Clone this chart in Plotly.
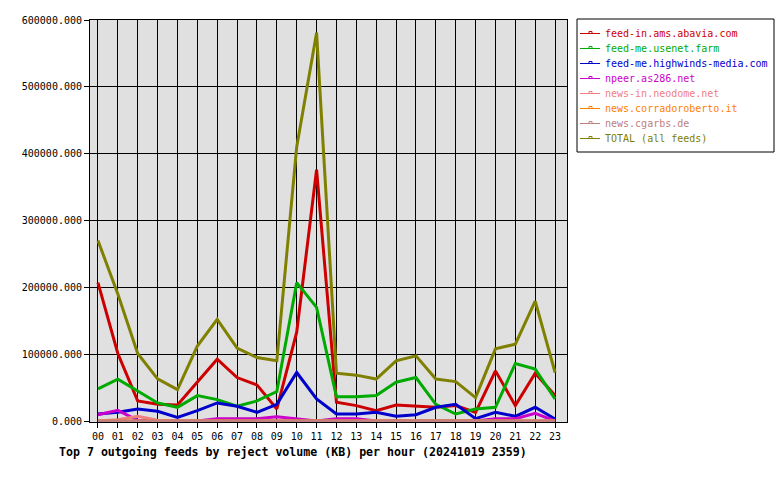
import plotly.graph_objects as go

hours = [f"{h:02d}" for h in range(24)]

series_names = [
    "feed-in.ams.abavia.com",
    "feed-me.usenet.farm",
    "feed-me.highwinds-media.com",
    "npeer.as286.net",
    "news-in.neodome.net",
    "news.corradoroberto.it",
    "news.cgarbs.de",
    "TOTAL (all feeds)",
]
series_colors = ["#cc0000", "#00aa00", "#0000cc", "#cc00cc", "#f08080", "#ff8000", "#c08080", "#808000"]

abavia = [207000, 101000, 30000, 25000, 24000, 58000, 92500, 65000, 54000, 18000, 133000, 376000,
          28000, 23000, 15400, 24000, 22000, 20500, 23000, 13000, 75000, 23000, 71600, 38000]
usenet = [48000, 62700, 45000, 27000, 20500, 38000, 32000, 22000, 30000, 44000, 207000, 170000,
          36300, 36300, 38000, 58000, 65000, 25000, 10500, 18000, 20500, 86000, 77600, 33000]
highwinds = [10500, 13000, 18000, 14500, 5500, 15400, 27000, 22000, 13000, 25000, 72600, 33000,
             10500, 10500, 13000, 7000, 9500, 20500, 25000, 3500, 13000, 7000, 20500, 3000]
npeer = [9400, 16000, 1000, 0, 0, 0, 3500, 3500, 3500, 6500, 3000, 0,
         3500, 3500, 0, 0, 0, 0, 0, 0, 3500, 3500, 11500, 0]
neodome = [0, 2000, 7000, 1000, 0, 0, 0, 0, 0, 0, 0, 0,
           0, 0, 0, 0, 0, 0, 0, 0, 0, 0, 0, 0]
corradoroberto = [0] * 24
cgarbs = [0] * 24
total = [270000, 190000, 101000, 63000, 47000, 112000, 152000, 109000, 95000, 90000, 410000, 581000,
         71500, 68600, 62700, 90000, 97500, 62700, 59000, 35000, 108000, 115000, 179500, 72600]

all_series = [abavia, usenet, highwinds, npeer, neodome, corradoroberto, cgarbs, total]

y_ticks = [0, 100000, 200000, 300000, 400000, 500000, 600000]

MONO = "DejaVu Sans Mono"

# plot-area geometry in pixels
W, H = 780, 480
L, R, T, B = 90, 213, 20, 58
PW, PH = W - L - R, H - T - B


def px(x):
    return (x - L) / PW


def py(y):
    return (H - B - y) / PH


fig = go.Figure()
for name, color, vals in zip(series_names, series_colors, all_series):
    fig.add_trace(go.Scatter(
        x=list(range(24)), y=vals, mode="lines", name=name,
        line=dict(color=color, width=3),
        hoverinfo="skip", showlegend=False,
    ))

shapes = [dict(type="rect", xref="paper", yref="paper",
               x0=px(577), x1=px(774), y0=py(152), y1=py(19),
               line=dict(color="black", width=1), fillcolor="white", layer="above")]
annotations = []
for i, (name, color) in enumerate(zip(series_names, series_colors)):
    ry = 33.5 + 15 * i
    shapes.append(dict(type="line", xref="paper", yref="paper",
                       x0=px(580), x1=px(600), y0=py(ry), y1=py(ry),
                       line=dict(color=color, width=1), layer="above"))
    shapes.append(dict(type="rect", xref="paper", yref="paper",
                       x0=px(589), x1=px(592), y0=py(ry), y1=py(ry - 2),
                       line=dict(color=color, width=1), fillcolor="white", layer="above"))
    annotations.append(dict(text=name, xref="paper", yref="paper",
                            x=px(603), y=py(ry), xanchor="left", yanchor="middle",
                            showarrow=False, font=dict(family=MONO, size=10, color=color)))

annotations.append(dict(
    text="<b>Top 7 outgoing feeds by reject volume (KB) per hour (20241019 2359)</b>",
    xref="paper", yref="paper", x=px(57), y=py(452),
    xanchor="left", yanchor="middle", showarrow=False,
    font=dict(family=MONO, size=11.6, color="black"),
))

fig.update_layout(
    width=W, height=H,
    margin=dict(l=L, r=R, t=T, b=B, autoexpand=False),
    paper_bgcolor="white",
    plot_bgcolor="#e0e0e0",
    font=dict(family=MONO, size=10, color="black"),
    showlegend=False,
    shapes=shapes,
    annotations=annotations,
)

fig.update_xaxes(
    range=[-0.4, 23.6],
    tickmode="array", tickvals=list(range(24)), ticktext=hours,
    showgrid=True, gridcolor="black", gridwidth=1,
    showline=True, linecolor="black", linewidth=1, mirror=True,
    ticks="outside", ticklen=5, tickcolor="black",
    zeroline=False,
    tickfont=dict(family=MONO, size=10),
)
fig.update_yaxes(
    range=[-1500, 600000],
    tickmode="array", tickvals=y_ticks, tickformat=".3f",
    showgrid=True, gridcolor="black", gridwidth=1,
    showline=True, linecolor="black", linewidth=1, mirror=True,
    ticks="outside", ticklen=5, tickcolor="black",
    zeroline=False,
    tickfont=dict(family=MONO, size=10),
)

fig.write_html("out.html")
